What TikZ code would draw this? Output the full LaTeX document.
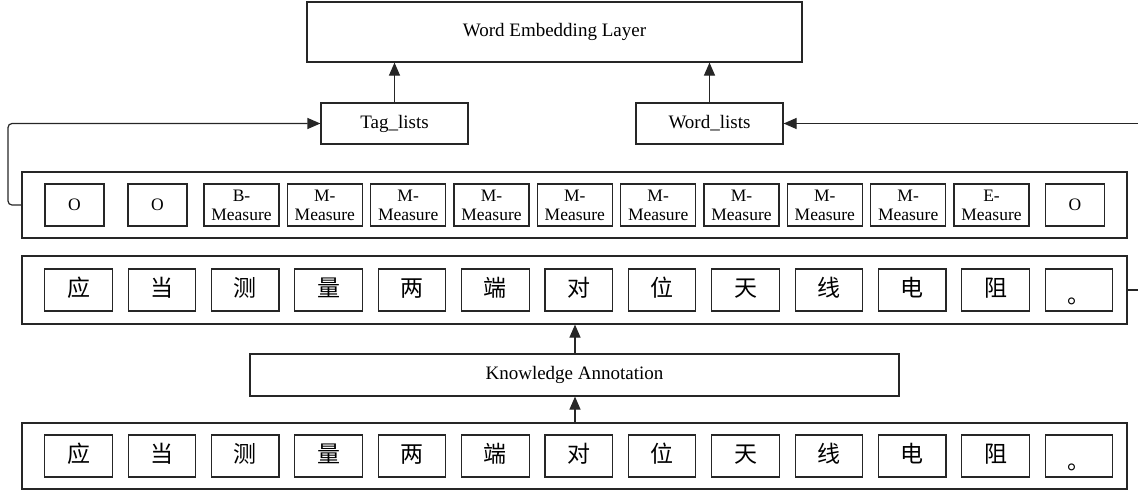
\documentclass[tikz,border=0pt]{standalone}
\usepackage{fontspec}
\setmainfont{Liberation Serif}
\newfontfamily\cjk{Noto Sans CJK SC}
\usetikzlibrary{arrows.meta}
\newcommand{\cjkstop}{\raisebox{-7pt}{。}}
\begin{document}
\begin{tikzpicture}[x=1pt,y=-1pt,
  ln/.style={draw=black!85,line width=1.2pt},
  outerbox/.style={ln,minimum width=1105pt,inner sep=0pt},
  bigbox/.style={ln,inner sep=0pt,font=\fontsize{19}{20}\selectfont},
  tagbox/.style={ln,inner sep=0pt,minimum height=42pt,align=center,font=\fontsize{17.5}{19}\selectfont},
  obox/.style={tagbox,minimum width=59pt},
  mbox/.style={tagbox,minimum width=75pt},
  cbox/.style={ln,inner sep=0pt,minimum width=67.5pt,minimum height=42pt,text height=18pt,text depth=5pt,font=\cjk\fontsize{23}{23}\selectfont},
  arr/.style={ln,-{Triangle[length=13pt,width=11pt]}}
]
\useasboundingbox (0,0) rectangle (1138,490);
% top
\node[bigbox,minimum width=495pt,minimum height=60pt] (wel) at (554.5,32) {Word Embedding Layer};
\node[bigbox,minimum width=147pt,minimum height=41pt] (tag) at (394.5,123.5) {Tag\_lists};
\node[bigbox,minimum width=147pt,minimum height=41pt] (word) at (709.5,123.5) {Word\_lists};
% tag row
\node[outerbox,minimum height=66pt] (tagrow) at (574.5,205) {};
\node[obox] (t1) at (74.5,205) {O};
\node[obox] (t2) at (157.5,205) {O};
\node[mbox] (t3) at (241.5,205) {B-\\Measure};
\node[mbox] (t4) at (324.83,205) {M-\\Measure};
\node[mbox] (t5) at (408.17,205) {M-\\Measure};
\node[mbox] (t6) at (491.5,205) {M-\\Measure};
\node[mbox] (t7) at (574.83,205) {M-\\Measure};
\node[mbox] (t8) at (658.17,205) {M-\\Measure};
\node[mbox] (t9) at (741.5,205) {M-\\Measure};
\node[mbox] (t10) at (824.83,205) {M-\\Measure};
\node[mbox] (t11) at (908.17,205) {M-\\Measure};
\node[mbox] (t12) at (991.5,205) {E-\\Measure};
\node[obox] (t13) at (1075,205) {O};
% chinese row 1
\node[outerbox,minimum height=68pt] (row1) at (574.5,290) {};
\foreach \c [count=\i from 0] in {应,当,测,量,两,端,对,位,天,线,电,阻,\cjkstop}{
  \node[cbox] (a\i) at (78.5+83.375*\i,290) {\c};
}
% knowledge
\node[bigbox,minimum width=649pt,minimum height=42pt] (ka) at (574.5,375) {Knowledge Annotation};
% chinese row 2
\node[outerbox,minimum height=66pt] (row2) at (574.5,456) {};
\foreach \c [count=\i from 0] in {应,当,测,量,两,端,对,位,天,线,电,阻,\cjkstop}{
  \node[cbox] (b\i) at (78.5+83.375*\i,456) {\c};
}
% connectors
\draw[arr] (tag.north) -- (tag.north |- wel.south);
\draw[arr] (word.north) -- (word.north |- wel.south);
\draw[arr] (575,0 |- row2.north) -- (575,0 |- ka.south);
\draw[arr] (575,0 |- ka.north) -- (575,0 |- row1.south);
\coordinate (lc) at (8,0);
\coordinate (rc) at (1146,0);
\draw[arr,rounded corners=4pt] (tagrow.west) -- (lc |- tagrow.west) -- (lc |- tag.west) -- (tag.west);
\draw[arr] (row1.east) -- (rc |- row1.east) -- (rc |- word.east) -- (word.east);
\end{tikzpicture}
\end{document}
